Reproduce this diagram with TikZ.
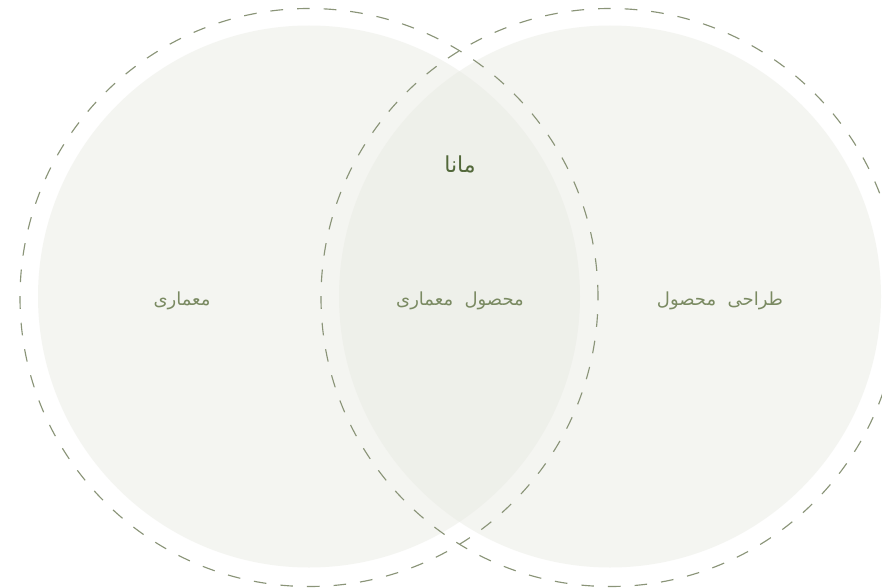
\documentclass[tikz,border=0pt]{standalone}
\usepackage{fontspec}
\newfontfamily\arabicfont[Script=Arabic]{DejaVu Sans}
\TeXXeTstate=1
\definecolor{dashcol}{HTML}{8A9478}
\definecolor{fillcol}{HTML}{E8EAE2}
\definecolor{labcol}{HTML}{7A8A62}
\definecolor{titlecol}{HTML}{52683A}
\begin{document}
\begin{tikzpicture}[x=0.75pt,y=0.75pt,
  disc/.style={circle, inner sep=0pt, minimum size=406.5pt, fill=fillcol, fill opacity=0.45, draw=none},
  ring/.style={circle, inner sep=0pt, minimum size=433.5pt, draw=dashcol, line width=0.85pt, dash pattern=on 9.5pt off 10.5pt},
  lab/.style={font=\arabicfont\fontsize{13.5}{16}\selectfont, text=labcol},
  ttl/.style={font=\arabicfont\fontsize{16.5}{20}\selectfont, text=titlecol}]
\useasboundingbox (0,0) rectangle (882,587);
\clip (0,0) rectangle (882,587);
\fill[white] (0,0) rectangle (882,587);
\node[disc] (dl) at (309,290.5) {};
\node[disc] (dr) at (610,290.5) {};
\node[ring] (rl) at (309,289.5) {};
\node[ring] (rr) at (610,289.5) {};
\node[lab] (tl) at (182,286) {\beginR معماری\endR};
\node[lab] (tc) at (460,286) {\beginR محصول\ \ معماری\endR};
\node[lab] (tr) at (720,286) {\beginR طراحی\ \ محصول\endR};
\node[ttl] (tt) at (460,423) {\beginR مانا\endR};
\end{tikzpicture}
\end{document}
